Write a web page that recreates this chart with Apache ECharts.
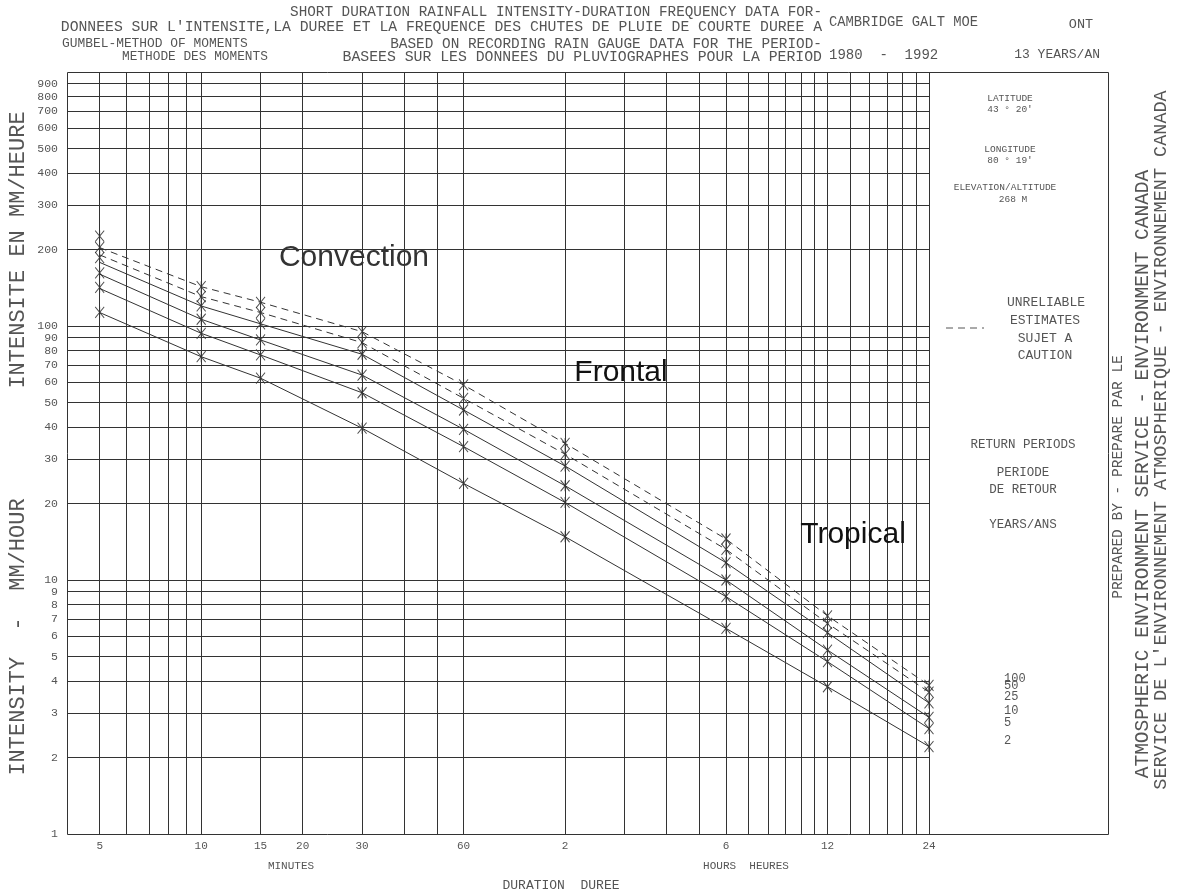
<!DOCTYPE html>
<html><head><meta charset="utf-8">
<script src="https://cdn.jsdelivr.net/npm/echarts@6/dist/echarts.min.js"></script>
<style>html,body{margin:0;padding:0;background:#fff}#c{width:1177px;height:896px}</style>
</head><body><div id="c"></div>
<script>
// ---------- data ----------
const durations = [5, 10, 15, 30, 60, 120, 360, 720, 1440];          // minutes
const returnPeriods = ['2', '5', '10', '25', '50', '100'];
// star markers (computed intensities, mm/h)
const pts2   = [113.2, 75.7, 62.3, 39.6, 24.0, 14.8, 6.45, 3.80, 2.21];
const pts5   = [142, 93.6, 76.9, 54.6, 33.5, 20.2, 8.6, 4.77, 2.60];
const pts10  = [162, 106.3, 88.1, 64.1, 39.2, 23.5, 10.0, 5.30, 2.88];
const pts25  = [186, 119.9, 102, 77.4, 46.7, 28.1, 11.7, 6.2, 3.28];
const pts50  = [204, 130.5, 113, 86.0, 51.9, 31.3, 13.2, 6.75, 3.62];
const pts100 = [226, 142.8, 124, 95.0, 58.6, 34.5, 14.5, 7.23, 3.85];
// fitted curves (mm/h)
const fit2   = [113, 75.7, 62.3, 39.6, 24.0, 14.8, 6.45, 3.80, 2.21];
const fit5   = [140.5, 93.6, 76.9, 54.6, 33.5, 20.2, 8.6, 4.77, 2.60];
const fit10  = [160, 106.3, 88.1, 64.1, 39.2, 23.5, 10.0, 5.30, 2.88];
const fit25  = [178, 119.9, 102, 77.4, 46.7, 28.1, 11.7, 6.2, 3.28];
const fit50  = [190.5, 130.5, 113, 86.0, 51.9, 31.3, 13.2, 6.75, 3.62];
const fit100 = [203.5, 142.8, 124, 95.0, 58.6, 34.5, 14.5, 7.23, 3.85];
const dashedPeriods = ['50', '100'];
// axes
const xTickValues = [5, 10, 15, 20, 30, 60, 120, 360, 720, 1440];
const xTickLabels = ['5', '10', '15', '20', '30', '60', '2', '6', '12', '24'];
const xGridValues = [5, 6, 7, 8, 9, 10, 15, 20, 30, 40, 50, 60, 120, 180, 240, 300, 360, 420, 480, 540, 600, 660, 720, 840, 960, 1080, 1200, 1320];
const yTickValues = [1, 2, 3, 4, 5, 6, 7, 8, 9, 10, 20, 30, 40, 50, 60, 70, 80, 90, 100, 200, 300, 400, 500, 600, 700, 800, 900];
const yGridValues = [2, 3, 4, 5, 6, 7, 8, 9, 10, 20, 30, 40, 50, 60, 70, 80, 90, 100, 200, 300, 400, 500, 600, 700, 800, 900];

// ---------- chart ----------
const MONO = "'Liberation Mono','DejaVu Sans Mono',monospace";
const SANS = "'Liberation Sans',Arial,sans-serif";
const TXT = '#555';
const fits = { '2': fit2, '5': fit5, '10': fit10, '25': fit25, '50': fit50, '100': fit100 };
const pts = { '2': pts2, '5': pts5, '10': pts10, '25': pts25, '50': pts50, '100': pts100 };
const G = { left: 67, top: 72, width: 862, height: 762 };
const FRAME_RIGHT = 1108;
const star = 'path://M0,0L10,12M10,0L0,12M5,0L5,12';

const series = [];
series.push({
  type: 'line', data: [], silent: true, z: 1,
  markLine: {
    silent: true, symbol: ['none', 'none'], label: { show: false },
    lineStyle: { color: '#333', width: 1, type: 'solid' }, emphasis: { disabled: true },
    data: xGridValues.map(v => ({ xAxis: v })).concat(yGridValues.map(v => ({ yAxis: v })))
  }
});
returnPeriods.forEach(rp => {
  series.push({
    type: 'line', name: rp, z: 3, silent: true, showSymbol: false,
    data: durations.map((d, i) => [d, fits[rp][i]]),
    lineStyle: { color: '#333', width: 1, type: dashedPeriods.includes(rp) ? [7, 5] : 'solid' },
    endLabel: { show: true, formatter: rp, offset: [67, -6], color: TXT, fontFamily: MONO, fontSize: 12 }
  });
  series.push({
    type: 'scatter', name: rp + ' pts', z: 4, silent: true,
    data: durations.map((d, i) => [d, pts[rp][i]]),
    symbol: star, symbolSize: [9, 11],
    itemStyle: { color: 'rgba(0,0,0,0)', borderColor: '#222', borderWidth: 1 }
  });
});

function T(x, y, text, o) {
  o = o || {};
  return {
    type: 'text', x: x, y: y, rotation: o.rot || 0, silent: true, z: 10,
    style: {
      text: text, fill: o.color || TXT, font: (o.size || 12) + 'px ' + (o.family || MONO),
      textAlign: o.align || 'center', textVerticalAlign: 'middle'
    }
  };
}
const R = Math.PI / 2;
const graphic = [
  { type: 'rect', silent: true, z: 5, shape: { x: G.left + 0.5, y: G.top + 0.5, width: FRAME_RIGHT - G.left, height: G.height },
    style: { fill: 'none', stroke: '#333', lineWidth: 1 } },
  { type: 'line', silent: true, z: 5, shape: { x1: G.left + G.width + 0.5, y1: G.top, x2: G.left + G.width + 0.5, y2: G.top + G.height },
    style: { stroke: '#333', lineWidth: 1 } },
  // header
  T(822, 12, 'SHORT DURATION RAINFALL INTENSITY-DURATION FREQUENCY DATA FOR-', { align: 'right', size: 14.3 }),
  T(822, 27, "DONNEES SUR L'INTENSITE,LA DUREE ET LA FREQUENCE DES CHUTES DE PLUIE DE COURTE DUREE A", { align: 'right', size: 14.75 }),
  T(829, 22, 'CAMBRIDGE GALT MOE', { align: 'left', size: 13.8 }),
  T(1081, 24, 'ONT', { size: 13.5 }),
  T(62, 44, 'GUMBEL-METHOD OF MOMENTS', { align: 'left', size: 12.9 }),
  T(122, 57, 'METHODE DES MOMENTS', { align: 'left', size: 12.8 }),
  T(822, 44, 'BASED ON RECORDING RAIN GAUGE DATA FOR THE PERIOD-', { align: 'right', size: 14.4 }),
  T(822, 57, 'BASEES SUR LES DONNEES DU PLUVIOGRAPHES POUR LA PERIOD', { align: 'right', size: 14.8 }),
  T(829, 55, '1980  -  1992', { align: 'left', size: 14 }),
  T(1100, 55, '13 YEARS/AN', { align: 'right', size: 13 }),
  // station box
  T(1010, 98, 'LATITUDE', { size: 9.5 }),
  T(1010, 109, "43 \u00B0 20'", { size: 9.5 }),
  T(1010, 149, 'LONGITUDE', { size: 9.5 }),
  T(1010, 160, "80 \u00B0 19'", { size: 9.5 }),
  T(1005, 187, 'ELEVATION/ALTITUDE', { size: 9.5 }),
  T(1013, 199, '268 M', { size: 9.5 }),
  T(1046, 303, 'UNRELIABLE', { size: 13 }),
  T(1045, 321, 'ESTIMATES', { size: 13 }),
  T(1045, 339, 'SUJET A', { size: 13 }),
  T(1045, 356, 'CAUTION', { size: 13 }),
  { type: 'line', silent: true, z: 10, shape: { x1: 946, y1: 328, x2: 984, y2: 328 },
    style: { stroke: '#555', lineWidth: 1, lineDash: [7, 5] } },
  T(1023, 445, 'RETURN PERIODS', { size: 12.5 }),
  T(1023, 473, 'PERIODE', { size: 12.5 }),
  T(1023, 490, 'DE RETOUR', { size: 12.5 }),
  T(1023, 525, 'YEARS/ANS', { size: 12.5 }),
  // right margin
  T(1118, 477, 'PREPARED BY - PREPARE PAR LE', { rot: R, size: 14.5 }),
  T(1143, 474, 'ATMOSPHERIC ENVIRONMENT SERVICE - ENVIRONMENT CANADA', { rot: R, size: 19.5 }),
  T(1161, 440, "SERVICE DE L'ENVIRONNEMENT ATMOSPHERIQUE - ENVIRONNEMENT CANADA", { rot: R, size: 18.5 }),
  // axis titles
  T(18, 250, 'INTENSITE EN MM/HEURE', { rot: R, size: 22 }),
  T(18, 637, 'INTENSITY  -  MM/HOUR', { rot: R, size: 22 }),
  T(291, 866, 'MINUTES', { size: 11 }),
  T(746, 866, 'HOURS  HEURES', { size: 11 }),
  T(561, 886, 'DURATION  DUREE', { size: 13 }),
  // annotations
  T(354, 258, 'Convection', { size: 30, family: SANS, color: '#333' }),
  T(621, 373, 'Frontal', { size: 30, family: SANS, color: '#111' }),
  T(853, 535, 'Tropical', { size: 30, family: SANS, color: '#111' })
];

const chart = echarts.init(document.getElementById('c'), null, { renderer: 'canvas' });
chart.setOption({
  animation: false,
  backgroundColor: '#fff',
  grid: G,
  xAxis: {
    type: 'log', logBase: 10, min: 4, max: 1440,
    axisLine: { show: false }, axisTick: { show: false }, splitLine: { show: false }, minorSplitLine: { show: false },
    axisLabel: {
      customValues: xTickValues, margin: 7, color: TXT, fontFamily: MONO, fontSize: 11, hideOverlap: false,
      showMinLabel: true, showMaxLabel: true,
      formatter: v => { const i = xTickValues.indexOf(Math.round(v)); return i >= 0 ? xTickLabels[i] : ''; }
    }
  },
  yAxis: {
    type: 'log', logBase: 10, min: 1, max: 1000,
    axisLine: { show: false }, axisTick: { show: false }, splitLine: { show: false },
    axisLabel: {
      customValues: yTickValues, margin: 9, color: TXT, fontFamily: MONO, fontSize: 11.5, hideOverlap: false,
      formatter: v => String(Math.round(v))
    }
  },
  series: series,
  graphic: graphic
});
</script></body></html>
